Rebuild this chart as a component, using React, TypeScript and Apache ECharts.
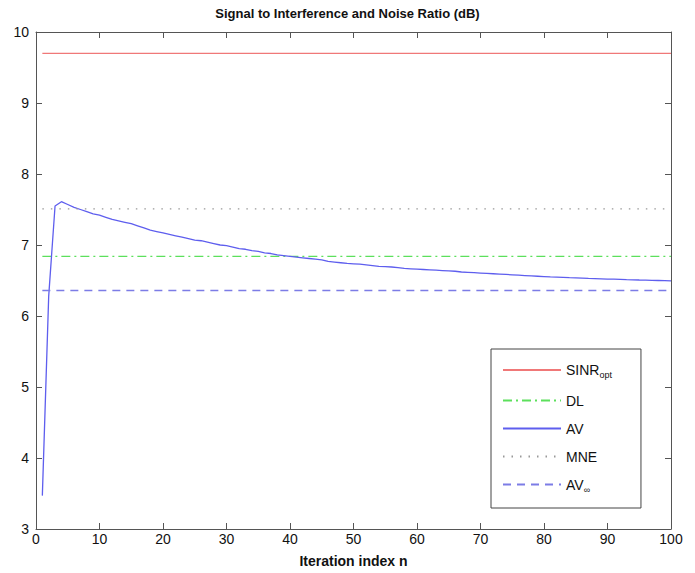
import React, { useEffect, useRef } from 'react';
import * as echarts from 'echarts';

// Iteration range used by the horizontal reference levels
const X_RANGE = [1, 100];

// Constant reference levels (dB)
const SINR_OPT = 9.7;
const DL_LEVEL = 6.84;
const MNE_LEVEL = 7.51;
const AV_INF_LEVEL = 6.36;

// AV curve, n = 1 .. 100 (dB)
const AV_VALUES = [
  3.47, 6.28, 7.55, 7.61, 7.57, 7.53, 7.50, 7.47, 7.44, 7.42,
  7.39, 7.36, 7.34, 7.32, 7.30, 7.27, 7.24, 7.21, 7.19, 7.17,
  7.15, 7.13, 7.11, 7.09, 7.07, 7.06, 7.04, 7.02, 7.00, 6.99,
  6.97, 6.95, 6.94, 6.92, 6.91, 6.89, 6.88, 6.86, 6.85, 6.84,
  6.83, 6.82, 6.81, 6.80, 6.79, 6.77, 6.76, 6.75, 6.74, 6.735,
  6.73, 6.72, 6.71, 6.70, 6.695, 6.69, 6.68, 6.67, 6.665, 6.66,
  6.655, 6.65, 6.645, 6.64, 6.635, 6.63, 6.62, 6.615, 6.61, 6.605,
  6.60, 6.595, 6.59, 6.585, 6.58, 6.575, 6.57, 6.565, 6.56, 6.555,
  6.55, 6.547, 6.544, 6.54, 6.537, 6.534, 6.53, 6.527, 6.524, 6.52,
  6.518, 6.515, 6.512, 6.51, 6.507, 6.505, 6.502, 6.50, 6.498, 6.495,
];

const SERIES_NAMES = ['SINR_opt', 'DL', 'AV', 'MNE', 'AV_inf'];
const LEGEND_LABELS: Record<string, string> = {
  SINR_opt: '{a|SINR}{s|opt}',
  DL: '{a|DL}',
  AV: '{a|AV}',
  MNE: '{a|MNE}',
  AV_inf: '{a|AV}{s|∞}',
};

const FONT = '"Liberation Sans", Arial, Helvetica, sans-serif';
const AXIS_COLOR = '#555';
const TEXT_COLOR = '#111';

export default function App() {
  const ref = useRef<HTMLDivElement>(null);

  useEffect(() => {
    if (!ref.current) return;
    const chart = echarts.init(ref.current, null, { renderer: 'svg' });

    const hLine = (v: number) => X_RANGE.map((x) => [x, v]);

    const axisCommon = {
      axisLine: { show: true, onZero: false, lineStyle: { color: AXIS_COLOR, width: 1 } },
      axisTick: { show: true, inside: true, length: 6, lineStyle: { color: AXIS_COLOR } },
      splitLine: { show: false },
    };

    chart.setOption({
      animation: false,
      backgroundColor: '#fff',
      textStyle: { fontFamily: FONT },
      title: {
        text: 'Signal to Interference and Noise Ratio (dB)',
        left: 'center',
        top: 7,
        padding: [0, 0, 0, 15],
        textStyle: { fontFamily: FONT, fontSize: 13, fontWeight: 'bold', color: TEXT_COLOR },
      },
      grid: { left: 36, right: 24, top: 32, bottom: 40, containLabel: false },
      legend: {
        data: SERIES_NAMES,
        orient: 'vertical',
        left: 491,
        top: 349,
        padding: [14, 29, 14, 11],
        itemGap: 14,
        itemWidth: 58,
        itemHeight: 14,
        selectedMode: false,
        backgroundColor: '#fff',
        borderColor: '#444',
        borderWidth: 1,
        borderRadius: 0,
        itemStyle: { opacity: 0 },
        formatter: (name: string) => LEGEND_LABELS[name] ?? name,
        textStyle: {
          fontFamily: FONT,
          color: TEXT_COLOR,
          rich: {
            a: { fontFamily: FONT, fontSize: 14, lineHeight: 20, color: TEXT_COLOR },
            s: { fontFamily: FONT, fontSize: 9, padding: [10, 0, 0, 0], color: TEXT_COLOR },
          },
        },
      },
      xAxis: [
        {
          type: 'value',
          min: 0,
          max: 100,
          interval: 10,
          position: 'bottom',
          ...axisCommon,
          axisLabel: { color: TEXT_COLOR, fontSize: 14, margin: 3, fontFamily: FONT },
          name: 'Iteration index n',
          nameLocation: 'middle',
          nameGap: 25,
          nameTextStyle: { fontFamily: FONT, fontSize: 14, fontWeight: 'bold', color: TEXT_COLOR },
        },
        {
          type: 'value',
          min: 0,
          max: 100,
          interval: 10,
          position: 'top',
          ...axisCommon,
          axisLabel: { show: false },
        },
      ],
      yAxis: [
        {
          type: 'value',
          min: 3,
          max: 10,
          interval: 1,
          position: 'left',
          ...axisCommon,
          axisLabel: { color: TEXT_COLOR, fontSize: 14, margin: 7, fontFamily: FONT },
        },
        {
          type: 'value',
          min: 3,
          max: 10,
          interval: 1,
          position: 'right',
          ...axisCommon,
          axisLabel: { show: false },
        },
      ],
      series: [
        {
          name: 'SINR_opt',
          type: 'line',
          data: hLine(SINR_OPT),
          symbol: 'none',
          itemStyle: { color: '#f07878' },
          lineStyle: { color: '#f07878', width: 1.3, type: 'solid' },
        },
        {
          name: 'DL',
          type: 'line',
          data: hLine(DL_LEVEL),
          symbol: 'none',
          itemStyle: { color: '#5ce05c' },
          lineStyle: { color: '#5ce05c', width: 1.3, type: [9, 4, 2, 4] },
        },
        {
          name: 'AV',
          type: 'line',
          data: AV_VALUES.map((v, i) => [i + 1, v]),
          symbol: 'none',
          itemStyle: { color: '#5e5eee' },
          lineStyle: { color: '#5e5eee', width: 1.3, type: 'solid' },
        },
        {
          name: 'MNE',
          type: 'line',
          data: hLine(MNE_LEVEL),
          symbol: 'none',
          itemStyle: { color: '#999' },
          lineStyle: { color: '#999', width: 1.3, type: [1.5, 7] },
        },
        {
          name: 'AV_inf',
          type: 'line',
          data: hLine(AV_INF_LEVEL),
          symbol: 'none',
          itemStyle: { color: '#7c7ce6' },
          lineStyle: { color: '#7c7ce6', width: 1.5, type: [8, 6] },
        },
      ],
    });

    return () => chart.dispose();
  }, []);

  return (
    <div
      ref={ref}
      style={{ position: 'absolute', left: 0, top: 0, width: 695, height: 573 }}
    />
  );
}
